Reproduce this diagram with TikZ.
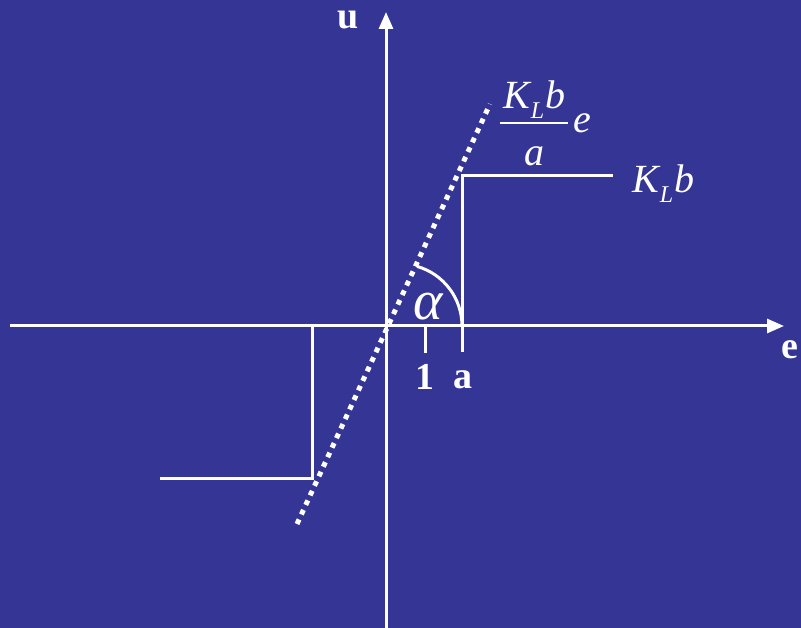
\documentclass[tikz,border=0pt]{standalone}
\usepackage{fontspec}
\setmainfont{Liberation Serif}
\usetikzlibrary{arrows.meta}
\definecolor{bgblue}{RGB}{52,53,148}
\tikzset{
  wl/.style={white,line width=3pt},
  axisarrow/.style={wl,-{Triangle[length=17pt,width=14pt]}},
  lbl/.style={text=white,inner sep=0pt,font=\fontsize{40}{44}\selectfont},
  blbl/.style={lbl,font=\fontsize{38}{42}\selectfont\bfseries},
  dotline/.style={white,line width=5pt,dash pattern=on 5pt off 5.5pt}
}
\newcommand{\klsub}{\itshape K\hspace{1pt}\raisebox{-10pt}{\fontsize{24}{26}\selectfont L}\hspace{1pt}b}
\begin{document}
\begin{tikzpicture}[x=1pt,y=-1pt]
\fill[bgblue] (0,0) rectangle (801,628);
\useasboundingbox (0,0) rectangle (801,628);
% coordinates
\coordinate (xl) at (10,326);
\coordinate (xr) at (784,326);
\coordinate (yb) at (386,628);
\coordinate (yt) at (386,12);
\coordinate (ra) at (462,352);
\coordinate (rtop) at (462,176);
\coordinate (rend) at (613,176);
\coordinate (lb) at (312,326);
\coordinate (lbot) at (312,478);
\coordinate (lend) at (160,478);
\coordinate (t1a) at (425,326);
\coordinate (t1b) at (425,353);
\coordinate (d1) at (297,524);
\coordinate (d2) at (490,104);
\coordinate (arcst) at (462,326);
% axes
\draw[axisarrow] (xl) -- (xr);
\draw[axisarrow] (yb) -- (yt);
% saturation characteristic
\draw[wl] (ra) -- (rtop) -- (rend);
\draw[wl] (lb) -- (lbot) -- (lend);
\draw[wl] (t1a) -- (t1b);
% dotted line
\draw[dotline] (d1) -- (d2);
% angle arc
\draw[wl] (arcst) arc[start angle=0,end angle=-74,radius=62];
% labels
\node[blbl] (u) at (348,20) {u};
\node[blbl] (e) at (790,350) {e};
\node[blbl] (one) at (425,377) {1};
\node[blbl] (a) at (463,380) {a};
\node[lbl,font=\fontsize{56}{60}\selectfont\itshape] (alpha) at (428,307) {α};
\node[lbl,anchor=west] (klb) at (632,184) {\klsub};
\node[lbl,anchor=west] (num) at (503,100) {\klsub};
\node[lbl] (den) at (534,156) {\itshape a};
\coordinate (fb1) at (500,123);
\coordinate (fb2) at (568,123);
\draw[white,line width=2pt] (fb1) -- (fb2);
\node[lbl] (fe) at (582,123) {\itshape e};
\end{tikzpicture}
\end{document}
